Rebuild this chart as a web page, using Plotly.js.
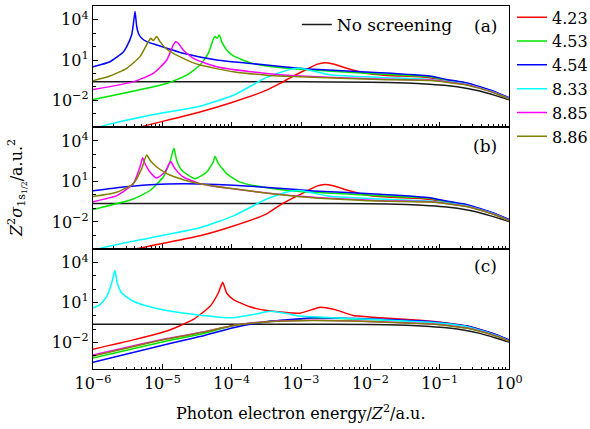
<!DOCTYPE html>
<html>
<head>
<meta charset="utf-8">
<script src="https://cdn.plot.ly/plotly-3.0.1.min.js"></script>
<style>html,body{margin:0;padding:0;background:#fff;}#chart{width:590px;height:429px;}</style>
</head>
<body>
<div id="chart"></div>
<script>
// ---------- legend names / colours ----------
const seriesNames = ['4.23', '4.53', '4.54', '8.33', '8.85', '8.86'];
const seriesColors = ['#ff0000', '#00e600', '#0000ff', '#00ffff', '#ff00ff', '#808000'];
const blackName = 'No screening';

// ---------- no screening (same in all panels) ----------
const energyBlack = [1e-6, 1e-3, 1e-2, 3.31e-2, 7.24e-2, 1.26e-1, 2.51e-1, 3.8e-1, 6.61e-1, 1];
const sigmaBlack  = [0.234, 0.234, 0.219, 0.195, 0.158, 0.126, 0.0759, 0.0479, 0.0209, 0.0107];

// ---------- panel (a) ----------
const energyRedA = [2.51e-6, 4.76e-6, 3.49e-5, 1.06e-4, 3.2e-4, 4.98e-4, 7.74e-4, 1.21e-3, 1.68e-3, 2.22e-3, 2.92e-3, 4.57e-3, 7.94e-3, 1.72e-2, 5.21e-2, 1.26e-1, 2.51e-1, 3.8e-1, 6.61e-1, 1];
const sigmaRedA  = [3.98e-5, 1.0e-4, 1.32e-3, 7.41e-3, 0.0562, 0.178, 0.631, 2.0, 4.68, 6.31, 5.01, 2.4, 1.12, 0.708, 0.562, 0.316, 0.174, 0.0912, 0.0355, 0.0145];
const energyGreenA = [1e-6, 1.16e-5, 2.24e-5, 3.49e-5, 4.6e-5, 5.43e-5, 5.75e-5, 6.21e-5, 6.64e-5, 7.18e-5, 8.47e-5, 1.06e-4, 1.84e-4, 3.2e-4, 9.68e-4, 1.38e-2, 7.24e-2, 1.26e-1, 2.51e-1, 3.8e-1, 6.61e-1, 1];
const sigmaGreenA  = [0.0112, 0.178, 0.741, 4.17, 31.6, 355, 562, 417, 741, 234, 56.2, 20, 6.31, 3.55, 2.0, 0.891, 0.562, 0.316, 0.174, 0.0912, 0.0355, 0.0145];
const energyBlueA = [1e-6, 1.76e-6, 2.74e-6, 3.06e-6, 3.61e-6, 3.81e-6, 4.04e-6, 4.27e-6, 4.51e-6, 5.04e-6, 5.94e-6, 8.3e-6, 2.0e-5, 6.08e-5, 3.2e-4, 9.68e-4, 1.51e-3, 1.38e-2, 7.24e-2, 1.26e-1, 2.51e-1, 3.8e-1, 6.61e-1, 1];
const sigmaBlueA  = [3.16, 7.41, 40, 100, 741, 4270, 41700, 3160, 1000, 417, 234, 132, 31.6, 10, 4.17, 2.4, 2.0, 1.12, 0.631, 0.355, 0.191, 0.1, 0.038, 0.0155];
const energyCyanA = [1e-6, 1.26e-6, 6.64e-6, 3.49e-5, 1.06e-4, 3.2e-4, 6.93e-4, 9.68e-4, 2.63e-3, 1.38e-2, 7.24e-2, 1.26e-1, 2.51e-1, 3.8e-1, 6.61e-1, 1];
const sigmaCyanA  = [5.0e-5, 1.0e-4, 7.41e-4, 3.55e-3, 0.0234, 0.501, 2.0, 2.4, 0.794, 0.501, 0.355, 0.251, 0.151, 0.0832, 0.0331, 0.0135];
const energyMagentaA = [1e-6, 3.81e-6, 7.41e-6, 1.16e-5, 1.44e-5, 1.56e-5, 1.7e-5, 2.0e-5, 2.8e-5, 6.08e-5, 3.2e-4, 9.68e-4, 1.38e-2, 7.24e-2, 1.26e-1, 2.51e-1, 3.8e-1, 6.61e-1, 1];
const sigmaMagentaA  = [0.0631, 0.234, 1.0, 10, 132, 234, 178, 56.2, 13.2, 3.16, 1.0, 0.631, 0.38, 0.316, 0.234, 0.141, 0.0794, 0.0316, 0.0129];
const energyOliveA = [1e-6, 1.76e-6, 3.06e-6, 4.76e-6, 6.28e-6, 6.79e-6, 7.41e-6, 8.3e-6, 9.25e-6, 1.16e-5, 2.0e-5, 3.49e-5, 1.06e-4, 3.2e-4, 9.68e-4, 1.38e-2, 7.24e-2, 1.26e-1, 2.51e-1, 3.8e-1, 6.61e-1, 1];
const sigmaOliveA  = [0.282, 0.631, 2.4, 17.8, 234, 417, 282, 562, 234, 63.1, 13.2, 4.17, 1.32, 0.741, 0.56, 0.355, 0.295, 0.219, 0.132, 0.0759, 0.0302, 0.0123];

// ---------- panel (b) ----------
const energyRedB = [2.51e-6, 4.36e-6, 3.49e-5, 1.06e-4, 3.2e-4, 4.98e-4, 7.74e-4, 1.21e-3, 1.68e-3, 2.22e-3, 2.92e-3, 4.57e-3, 7.94e-3, 1.72e-2, 5.21e-2, 1.26e-1, 2.51e-1, 3.8e-1, 6.61e-1, 1];
const sigmaRedB  = [4.47e-5, 1.07e-4, 9.5e-4, 5.0e-3, 0.04, 0.178, 0.6, 1.9, 4.47, 6.0, 4.8, 2.3, 1.1, 0.7, 0.55, 0.316, 0.174, 0.0912, 0.0355, 0.0145];
const energyGreenB = [1e-6, 3.81e-6, 6.64e-6, 1.03e-5, 1.29e-5, 1.47e-5, 1.61e-5, 1.91e-5, 2.96e-5, 4.37e-5, 5.43e-5, 5.75e-5, 6.41e-5, 8.47e-5, 1.32e-4, 3.2e-4, 9.68e-4, 1.38e-2, 7.24e-2, 1.26e-1, 2.51e-1, 3.8e-1, 6.61e-1, 1];
const sigmaGreenB  = [0.083, 0.501, 2.14, 21.4, 282, 2820, 372, 66.1, 15.8, 50.1, 282, 741, 214, 38, 8.91, 3.39, 1.78, 0.891, 0.562, 0.316, 0.174, 0.0912, 0.0355, 0.0145];
const energyBlueB = [1e-6, 2.2e-6, 6.64e-6, 2.0e-5, 6.08e-5, 1.84e-4, 9.68e-4, 1.51e-3, 1.38e-2, 7.24e-2, 1.26e-1, 2.51e-1, 3.8e-1, 6.61e-1, 1];
const sigmaBlueB  = [2.0, 3.39, 5.62, 6.76, 6.03, 4.47, 2.4, 2.0, 1.12, 0.631, 0.355, 0.191, 0.1, 0.038, 0.0155];
const energyCyanB = [1e-6, 1.26e-6, 6.64e-6, 3.49e-5, 1.06e-4, 3.2e-4, 6.93e-4, 9.68e-4, 2.63e-3, 1.38e-2, 7.24e-2, 1.26e-1, 2.51e-1, 3.8e-1, 6.61e-1, 1];
const sigmaCyanB  = [5.0e-5, 1.07e-4, 6.61e-4, 3.72e-3, 0.0282, 0.501, 1.86, 2.14, 0.794, 0.501, 0.355, 0.251, 0.151, 0.0832, 0.0331, 0.0135];
const energyMagentaB = [1e-6, 2.2e-6, 3.81e-6, 4.76e-6, 5.21e-6, 5.62e-6, 6.64e-6, 8.3e-6, 1.09e-5, 1.26e-5, 1.33e-5, 1.52e-5, 2.0e-5, 3.49e-5, 1.06e-4, 9.68e-4, 1.38e-2, 7.24e-2, 1.26e-1, 2.51e-1, 3.8e-1, 6.61e-1, 1];
const sigmaMagentaB  = [0.316, 0.891, 6.76, 117, 562, 214, 50.1, 17.8, 50.1, 214, 282, 89.1, 21.4, 6.76, 2.82, 0.794, 0.38, 0.316, 0.234, 0.141, 0.0794, 0.0316, 0.0129];
const energyOliveB = [1e-6, 2.2e-6, 3.81e-6, 5.04e-6, 5.94e-6, 6.64e-6, 8.3e-6, 1.16e-5, 2.0e-5, 3.49e-5, 1.06e-4, 9.68e-4, 1.38e-2, 7.24e-2, 1.26e-1, 2.51e-1, 3.8e-1, 6.61e-1, 1];
const sigmaOliveB  = [0.76, 1.58, 6.76, 89.1, 891, 372, 117, 38, 13.5, 6.76, 2.82, 0.75, 0.355, 0.295, 0.219, 0.132, 0.0759, 0.0302, 0.0123];

// ---------- panel (c) ----------
const energyRedC = [1e-6, 3.81e-6, 1.16e-5, 2.8e-5, 4.88e-5, 6.41e-5, 7.41e-5, 8.47e-5, 1.06e-4, 1.84e-4, 3.2e-4, 9.68e-4, 1.4e-3, 1.88e-3, 2.5e-3, 3.27e-3, 5.68e-3, 1.38e-2, 5.21e-2, 1.26e-1, 2.51e-1, 3.8e-1, 6.61e-1, 1];
const sigmaRedC  = [3.09e-3, 0.0155, 0.0724, 0.537, 5.25, 52.5, 331, 52.5, 16.6, 4.79, 2.51, 1.58, 2.82, 4.47, 3.72, 2.69, 1.07, 0.72, 0.46, 0.29, 0.17, 0.093, 0.037, 0.015];
const energyGreenC = [1e-6, 1.16e-5, 3.49e-5, 1.06e-4, 3.2e-4, 9.68e-4, 1.51e-3, 1.38e-2, 7.24e-2, 1.26e-1, 2.51e-1, 3.8e-1, 6.61e-1, 1];
const sigmaGreenC  = [6.61e-4, 0.0129, 0.0407, 0.178, 0.38, 0.537, 0.69, 0.5, 0.34, 0.26, 0.15, 0.0871, 0.0355, 0.0145];
const energyBlueC = [1e-6, 1.16e-5, 3.49e-5, 1.06e-4, 3.2e-4, 9.68e-4, 1.51e-3, 1.38e-2, 7.24e-2, 1.26e-1, 2.51e-1, 3.8e-1, 6.61e-1, 1];
const sigmaBlueC  = [3.16e-4, 7.41e-3, 0.0275, 0.129, 0.363, 0.603, 0.724, 0.56, 0.38, 0.28, 0.17, 0.095, 0.038, 0.0155];
const energyCyanC = [1e-6, 1.26e-6, 1.58e-6, 1.86e-6, 2.07e-6, 2.24e-6, 2.59e-6, 3.81e-6, 6.64e-6, 1.16e-5, 3.49e-5, 1.06e-4, 2.05e-4, 3.57e-4, 6.22e-4, 9.68e-4, 1.38e-2, 7.24e-2, 1.26e-1, 2.51e-1, 3.8e-1, 6.61e-1, 1];
const sigmaCyanC  = [3.98, 7.08, 29.5, 295, 2570, 295, 52.5, 12.6, 4.79, 2.51, 1.12, 0.724, 1.26, 2.24, 1.51, 0.955, 0.5, 0.33, 0.25, 0.15, 0.083, 0.033, 0.0135];
const energyMagentaC = [1e-6, 1.16e-5, 3.49e-5, 1.06e-4, 3.2e-4, 1.51e-3, 1.38e-2, 7.24e-2, 1.26e-1, 2.51e-1, 3.8e-1, 6.61e-1, 1];
const sigmaMagentaC  = [1.12e-3, 0.0195, 0.055, 0.191, 0.363, 0.46, 0.355, 0.251, 0.2, 0.12, 0.0724, 0.0302, 0.0126];
const energyOliveC = [1e-6, 1.16e-5, 3.49e-5, 1.06e-4, 3.2e-4, 1.51e-3, 1.38e-2, 7.24e-2, 1.26e-1, 2.51e-1, 3.8e-1, 6.61e-1, 1];
const sigmaOliveC  = [9.33e-4, 0.0178, 0.0525, 0.186, 0.347, 0.437, 0.339, 0.24, 0.191, 0.115, 0.0692, 0.0288, 0.0123];

// ---------- axis tick labels ----------
const xTickVals = [1e-6, 1e-5, 1e-4, 1e-3, 1e-2, 1e-1, 1];
const xTickText = ['10<sup>−6</sup>', '10<sup>−5</sup>', '10<sup>−4</sup>', '10<sup>−3</sup>', '10<sup>−2</sup>', '10<sup>−1</sup>', '10<sup>0</sup>'];
const yTickVals = [1e-2, 1e1, 1e4];
const yTickText = ['10<sup>−2</sup>', '10<sup>1</sup>', '10<sup>4</sup>'];
const yMinorVals = [1e-4, 1e-3, 1e-1, 1, 1e2, 1e3, 1e5];
const subDigits = [2, 3, 4, 5, 6, 7, 8, 9];
const decades = [1e-6, 1e-5, 1e-4, 1e-3, 1e-2, 1e-1];
const xMinorVals = [];
decades.forEach(d => subDigits.forEach(s => xMinorVals.push(s * d)));

// ---------- build traces ----------
const panels = [
  {ax: '', E: [energyRedA, energyGreenA, energyBlueA, energyCyanA, energyMagentaA, energyOliveA],
           S: [sigmaRedA, sigmaGreenA, sigmaBlueA, sigmaCyanA, sigmaMagentaA, sigmaOliveA]},
  {ax: '2', E: [energyRedB, energyGreenB, energyBlueB, energyCyanB, energyMagentaB, energyOliveB],
           S: [sigmaRedB, sigmaGreenB, sigmaBlueB, sigmaCyanB, sigmaMagentaB, sigmaOliveB]},
  {ax: '3', E: [energyRedC, energyGreenC, energyBlueC, energyCyanC, energyMagentaC, energyOliveC],
           S: [sigmaRedC, sigmaGreenC, sigmaBlueC, sigmaCyanC, sigmaMagentaC, sigmaOliveC]}
];
const traces = [];
panels.forEach((p, pi) => {
  traces.push({
    x: energyBlack, y: sigmaBlack, type: 'scatter', mode: 'lines',
    xaxis: 'x' + p.ax, yaxis: 'y' + p.ax, name: blackName,
    line: {color: '#1a1a1a', width: 1.5, shape: 'spline', smoothing: 0.6}, legend: 'legend2',
    showlegend: pi === 0, legendgroup: 'black', hoverinfo: 'skip'
  });
  p.E.forEach((e, i) => {
    traces.push({
      x: e, y: p.S[i], type: 'scatter', mode: 'lines',
      xaxis: 'x' + p.ax, yaxis: 'y' + p.ax, name: seriesNames[i],
      line: {color: seriesColors[i], width: 1.5, shape: 'spline', smoothing: 0.5},
      showlegend: pi === 0, legendgroup: seriesNames[i], legend: 'legend'
    });
  });
});

const FONT = 'DejaVu Serif';
function xAxis(showLabels, anchor) {
  return {
    type: 'log', range: [-6, 0], anchor: anchor,
    showline: true, mirror: true, linecolor: '#000', linewidth: 1.2,
    ticks: 'inside', ticklen: 5, tickwidth: 1, tickcolor: '#000',
    tickmode: 'array', tickvals: xTickVals, ticktext: xTickText,
    showticklabels: showLabels, showgrid: false, zeroline: false,
    tickfont: {family: FONT, size: 16, color: '#000'},
    minor: {tickmode: 'array', tickvals: xMinorVals, ticks: 'inside', ticklen: 2.5, tickwidth: 1, tickcolor: '#000', showgrid: false}
  };
}
function yAxis(domain, range, anchor) {
  return {
    type: 'log', range: range, domain: domain, anchor: anchor,
    showline: true, mirror: true, linecolor: '#000', linewidth: 1.2,
    ticks: 'inside', ticklen: 5, tickwidth: 1, tickcolor: '#000',
    tickmode: 'array', tickvals: yTickVals, ticktext: yTickText,
    showgrid: false, zeroline: false,
    tickfont: {family: FONT, size: 16, color: '#000'},
    minor: {tickmode: 'array', tickvals: yMinorVals, ticks: 'inside', ticklen: 3, tickwidth: 1, tickcolor: '#000', showgrid: false}
  };
}

const layout = {
  width: 590, height: 429,
  margin: {l: 93, r: 81, t: 6, b: 60, autoexpand: false},
  paper_bgcolor: '#fff', plot_bgcolor: '#fff',
  font: {family: FONT, size: 16, color: '#000'},
  xaxis: Object.assign(xAxis(false, 'y'), {matches: 'x3'}),
  xaxis2: Object.assign(xAxis(false, 'y2'), {matches: 'x3'}),
  xaxis3: xAxis(true, 'y3'),
  yaxis: yAxis([0.6667, 1], [-4.0, 5.03], 'x'),
  yaxis2: yAxis([0.3306, 0.6667], [-4.0, 5.03], 'x2'),
  yaxis3: yAxis([0, 0.3306], [-4.0, 5.03], 'x3'),
  legend: {x: 1.0072, y: 1.0155, xanchor: 'left', yanchor: 'top', bgcolor: 'rgba(0,0,0,0)',
           font: {family: FONT, size: 16, color: '#000'}, tracegroupgap: 0, itemwidth: 30},
  legend2: {x: 0.49, y: 0.9975, xanchor: 'left', yanchor: 'top', bgcolor: 'rgba(0,0,0,0)',
            font: {family: FONT, size: 17, color: '#000'}, itemwidth: 30},
  annotations: [
    {text: '(a)', xref: 'paper', yref: 'paper', x: 0.975, y: 0.946, xanchor: 'right', yanchor: 'middle', showarrow: false, font: {family: FONT, size: 17}},
    {text: '(b)', xref: 'paper', yref: 'paper', x: 0.975, y: 0.614, xanchor: 'right', yanchor: 'middle', showarrow: false, font: {family: FONT, size: 17}},
    {text: '(c)', xref: 'paper', yref: 'paper', x: 0.975, y: 0.285, xanchor: 'right', yanchor: 'middle', showarrow: false, font: {family: FONT, size: 17}},
    {text: '<i>Z</i><sup>2</sup><i>σ</i><sub>1s<sub>1/2</sub></sub>/a.u.<sup>2</sup>', xref: 'paper', yref: 'paper',
     x: -0.1827, y: 0.4986, xanchor: 'center', yanchor: 'middle', textangle: -90, showarrow: false, font: {family: FONT, size: 16}},
    {text: 'Photon electron energy/<i>Z</i><sup>2</sup>/a.u.', xref: 'paper', yref: 'paper',
     x: 0.5, y: -0.1212, xanchor: 'center', yanchor: 'middle', showarrow: false, font: {family: FONT, size: 16}}
  ]
};

Plotly.newPlot('chart', traces, layout, {staticPlot: true, displayModeBar: false});
</script>
</body>
</html>
